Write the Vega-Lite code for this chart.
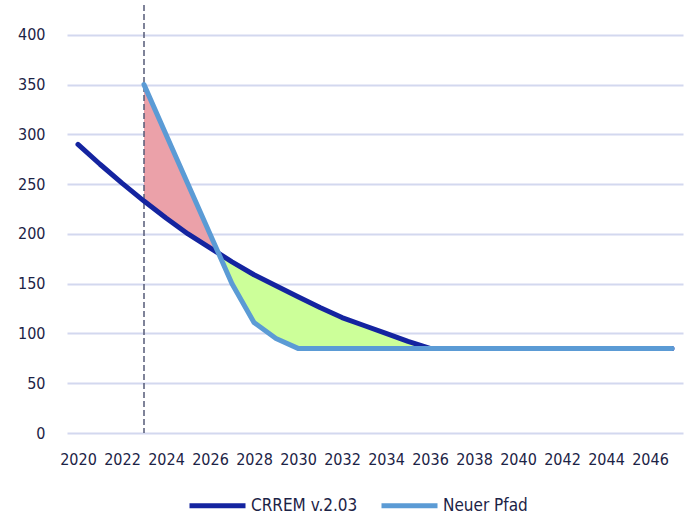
{
  "$schema": "https://vega.github.io/schema/vega-lite/v6.json",
  "width": 616,
  "height": 428,
  "autosize": {"type": "none"},
  "padding": {"left": 67, "top": 5, "right": 6, "bottom": 84},
  "background": "white",
  "config": {
    "view": {"stroke": null},
    "font": "DejaVu Sans Condensed, Liberation Sans Narrow, DejaVu Sans, sans-serif",
    "axis": {"labelColor": "#1c2346", "labelFontSize": 16, "domain": false, "ticks": false, "title": null}
  },
  "datasets": {
    "gap": [
      {"year": 2023, "neu": 350, "crrem": 233, "zone": "over"},
      {"year": 2024, "neu": 300, "crrem": 216, "zone": "over"},
      {"year": 2025, "neu": 250, "crrem": 200, "zone": "over"},
      {"year": 2026, "neu": 200, "crrem": 186, "zone": "over"},
      {"year": 2026.45, "neu": 177, "crrem": 177, "zone": "over"},
      {"year": 2026.45, "neu": 177, "crrem": 177, "zone": "under"},
      {"year": 2027, "neu": 150, "crrem": 172, "zone": "under"},
      {"year": 2028, "neu": 111, "crrem": 159, "zone": "under"},
      {"year": 2029, "neu": 95, "crrem": 148, "zone": "under"},
      {"year": 2030, "neu": 85, "crrem": 137, "zone": "under"},
      {"year": 2031, "neu": 85, "crrem": 126, "zone": "under"},
      {"year": 2032, "neu": 85, "crrem": 116, "zone": "under"},
      {"year": 2033, "neu": 85, "crrem": 108, "zone": "under"},
      {"year": 2034, "neu": 85, "crrem": 100, "zone": "under"},
      {"year": 2035, "neu": 85, "crrem": 92, "zone": "under"},
      {"year": 2036, "neu": 85, "crrem": 85, "zone": "under"}
    ],
    "paths": [
      {"year": 2020, "value": 290, "series": "CRREM v.2.03"},
      {"year": 2021, "value": 270, "series": "CRREM v.2.03"},
      {"year": 2022, "value": 251, "series": "CRREM v.2.03"},
      {"year": 2023, "value": 233, "series": "CRREM v.2.03"},
      {"year": 2024, "value": 216, "series": "CRREM v.2.03"},
      {"year": 2025, "value": 200, "series": "CRREM v.2.03"},
      {"year": 2026, "value": 186, "series": "CRREM v.2.03"},
      {"year": 2027, "value": 172, "series": "CRREM v.2.03"},
      {"year": 2028, "value": 159, "series": "CRREM v.2.03"},
      {"year": 2029, "value": 148, "series": "CRREM v.2.03"},
      {"year": 2030, "value": 137, "series": "CRREM v.2.03"},
      {"year": 2031, "value": 126, "series": "CRREM v.2.03"},
      {"year": 2032, "value": 116, "series": "CRREM v.2.03"},
      {"year": 2033, "value": 108, "series": "CRREM v.2.03"},
      {"year": 2034, "value": 100, "series": "CRREM v.2.03"},
      {"year": 2035, "value": 92, "series": "CRREM v.2.03"},
      {"year": 2036, "value": 85, "series": "CRREM v.2.03"},
      {"year": 2040, "value": 85, "series": "CRREM v.2.03"},
      {"year": 2047, "value": 85, "series": "CRREM v.2.03"},
      {"year": 2023, "value": 350, "series": "Neuer Pfad"},
      {"year": 2024, "value": 300, "series": "Neuer Pfad"},
      {"year": 2025, "value": 250, "series": "Neuer Pfad"},
      {"year": 2026, "value": 200, "series": "Neuer Pfad"},
      {"year": 2027, "value": 150, "series": "Neuer Pfad"},
      {"year": 2028, "value": 111, "series": "Neuer Pfad"},
      {"year": 2029, "value": 95, "series": "Neuer Pfad"},
      {"year": 2030, "value": 85, "series": "Neuer Pfad"},
      {"year": 2031, "value": 85, "series": "Neuer Pfad"},
      {"year": 2035, "value": 85, "series": "Neuer Pfad"},
      {"year": 2040, "value": 85, "series": "Neuer Pfad"},
      {"year": 2047, "value": 85, "series": "Neuer Pfad"}
    ],
    "marker": [{"year": 2023}]
  },
  "encoding": {
    "x": {
      "field": "year",
      "type": "quantitative",
      "scale": {"domain": [2019.5, 2047.5], "nice": false, "zero": false},
      "axis": {"values": [2020, 2022, 2024, 2026, 2028, 2030, 2032, 2034, 2036, 2038, 2040, 2042, 2044, 2046], "format": "d", "grid": false, "labelPadding": 18, "labelFlush": false}
    }
  },
  "layer": [
    {
      "data": {"name": "gap"},
      "mark": {"type": "area", "opacity": 1},
      "encoding": {
        "y": {
          "field": "neu",
          "type": "quantitative",
          "scale": {"domain": [0, 430], "nice": false},
          "axis": {"values": [0, 50, 100, 150, 200, 250, 300, 350, 400], "grid": true, "gridColor": "#d3d8ef", "gridWidth": 2, "labelPadding": 22}
        },
        "y2": {"field": "crrem"},
        "color": {
          "field": "zone",
          "type": "nominal",
          "scale": {"domain": ["over", "under"], "range": ["#eba1a9", "#ccff99"]},
          "legend": null
        },
        "detail": {"field": "zone"}
      }
    },
    {
      "data": {"name": "marker"},
      "mark": {"type": "rule", "color": "#565b78", "strokeWidth": 1.5, "strokeDash": [6, 3]},
      "encoding": {}
    },
    {
      "data": {"name": "paths"},
      "mark": {"type": "line", "strokeWidth": 5, "strokeCap": "round", "strokeJoin": "round"},
      "encoding": {
        "y": {"field": "value", "type": "quantitative"},
        "stroke": {
          "field": "series",
          "type": "nominal",
          "scale": {"domain": ["CRREM v.2.03", "Neuer Pfad"], "range": ["#1424a0", "#5b9bd5"]},
          "legend": {
            "title": null,
            "orient": "none",
            "legendX": 120,
            "legendY": 470,
            "direction": "horizontal",
            "symbolType": "stroke",
            "symbolSize": 3136,
            "symbolStrokeWidth": 5,
            "labelFontSize": 17,
            "labelColor": "#1c2346",
            "labelOffset": 3,
            "columnPadding": 13,
            "labelLimit": 300
          }
        }
      }
    }
  ],
  "resolve": {"scale": {"color": "independent"}}
}
